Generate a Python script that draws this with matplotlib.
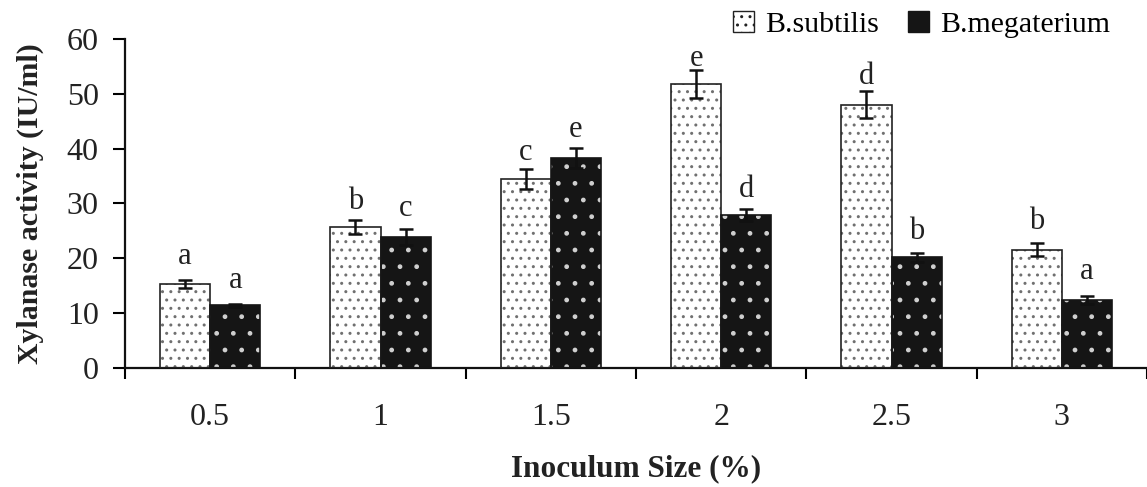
import matplotlib
matplotlib.use("Agg")
import matplotlib.pyplot as plt
import numpy as np
from matplotlib.patches import Patch

categories = ["0.5", "1", "1.5", "2", "2.5", "3"]
subtilis = [15.3, 25.7, 34.4, 51.8, 48.0, 21.6]
subtilis_err = [0.8, 1.3, 1.8, 2.6, 2.5, 1.2]
subtilis_letters = ["a", "b", "c", "e", "d", "b"]
megaterium = [11.4, 23.9, 38.3, 27.9, 20.2, 12.4]
megaterium_err = [0.3, 1.4, 1.8, 1.1, 0.8, 0.7]
megaterium_letters = ["a", "c", "e", "d", "b", "a"]

# layout: gap (points) between error-bar cap and letter baseline
sub_letter_gap = [11, 8, 6.5, 3, 5, 10]
meg_letter_gap = [11.5, 9.5, 8, 8.5, 10, 12]

plt.rcParams['font.family'] = ['Liberation Serif', 'DejaVu Serif']
plt.rcParams['hatch.linewidth'] = 1.0

fig = plt.figure(figsize=(11.47, 4.87), dpi=100)
ax = fig.add_axes([0.109, 0.2444, 0.891, 0.6756])

x = np.arange(len(categories))
w = 0.294

# subtilis: white with grey dots
ax.bar(x - w/2, subtilis, w, color='white', edgecolor='#707070', hatch='..', linewidth=0, zorder=2)
ax.bar(x - w/2, subtilis, w, fill=False, edgecolor='#222222', linewidth=1.2, zorder=3)
# megaterium: black with white dots
ax.bar(x + w/2, megaterium, w, color='#151515', edgecolor='#d0d0d0', hatch='.', linewidth=0, zorder=2)
ax.bar(x + w/2, megaterium, w, fill=False, edgecolor='#151515', linewidth=1.2, zorder=3)

ax.errorbar(x - w/2, subtilis, yerr=subtilis_err, fmt='none', ecolor='#111111',
            elinewidth=1.8, capsize=5, capthick=1.8, zorder=4)
ax.errorbar(x + w/2, megaterium, yerr=megaterium_err, fmt='none', ecolor='#111111',
            elinewidth=1.8, capsize=5, capthick=1.8, zorder=4)

for xi, v, e, t, g in zip(x - w/2, subtilis, subtilis_err, subtilis_letters, sub_letter_gap):
    ax.annotate(t, (xi, v + e), xytext=(0, g), textcoords='offset points',
                ha='center', va='baseline', fontsize=22, color='#222222')
for xi, v, e, t, g in zip(x + w/2, megaterium, megaterium_err, megaterium_letters, meg_letter_gap):
    ax.annotate(t, (xi, v + e), xytext=(0, g), textcoords='offset points',
                ha='center', va='baseline', fontsize=22, color='#222222')

ax.set_xlim(-0.5, len(categories) - 0.5)
ax.set_ylim(0, 60)
ax.set_yticks(np.arange(0, 61, 10))
ax.set_xticks(x)
ax.set_xticklabels(categories)
ax.set_xticks(np.arange(len(categories) + 1) - 0.5, minor=True)
ax.tick_params(axis='x', which='major', length=0, pad=25, labelsize=23, labelcolor='#222222')
ax.tick_params(axis='x', which='minor', length=8, width=1.5, direction='out')
ax.tick_params(axis='y', length=9, width=1.5, pad=10, labelsize=23, labelcolor='#222222')

for s in ['top', 'right']:
    ax.spines[s].set_visible(False)
for s in ['left', 'bottom']:
    ax.spines[s].set_linewidth(1.6)
    ax.spines[s].set_color('#111111')

ax.set_ylabel('Xylanase activity (IU/ml)', fontsize=21.5, fontweight='bold', labelpad=16, color='#222222')
ax.set_xlabel('Inoculum Size (%)', fontsize=22.5, fontweight='bold', labelpad=16, color='#222222')

handles = [Patch(facecolor='white', edgecolor='#222222', hatch='..', linewidth=1.0),
           Patch(facecolor='#151515', edgecolor='#151515', hatch='.', linewidth=1.0)]
fig.legend(handles, ['B.subtilis', 'B.megaterium'], loc='upper right',
           bbox_to_anchor=(0.991, 1.032), ncol=2, frameon=False, fontsize=21.5,
           handlelength=0.7, handleheight=0.7, handletextpad=0.35, columnspacing=1.0)

fig.savefig('out.png', dpi=100)
